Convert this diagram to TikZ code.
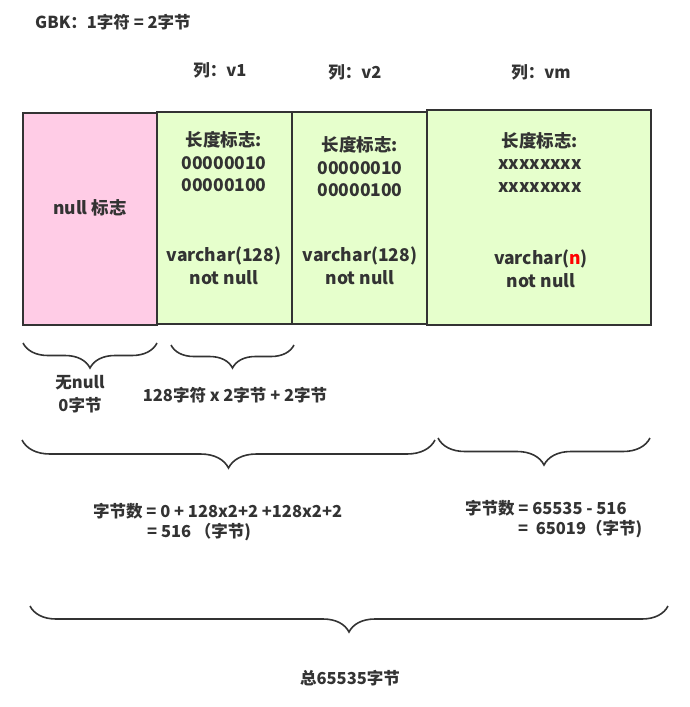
\documentclass[tikz,border=0pt]{standalone}
\usepackage{fontspec}
\setmainfont{Noto Sans CJK SC}
\usetikzlibrary{decorations.pathreplacing}
\definecolor{inkgray}{RGB}{51,51,51}
\definecolor{nullpink}{RGB}{255,204,230}
\definecolor{colgreen}{RGB}{230,255,204}

\begin{document}
\begin{tikzpicture}[x=1pt,y=-1pt,font=\bfseries\fontsize{16.5}{22.5}\selectfont,text=inkgray,
    box/.style={draw=inkgray,line width=2pt,inner sep=0pt,minimum height=212pt},
    lbl/.style={align=center,inner sep=0pt},
    inbox/.style={lbl,font=\bfseries\fontsize{17.5}{22.5}\selectfont},
    curly/.style={draw=inkgray,line width=1.6pt,decorate,decoration={brace,mirror,amplitude=#1}},
    curly/.default=25pt]
    % row layout of a varchar record
    \useasboundingbox (0,0) rectangle (690,707);
    \node[lbl,anchor=west] (gbk) at (35,22) {GBK：1字符 = 2字节};
    \node[lbl] (colv1) at (220,70) {列：v1};
    \node[lbl] (colv2) at (355,72) {列：v2};
    \node[lbl] (colvm) at (541,72) {列：vm};

    \node[box,fill=nullpink,minimum width=134pt] (nullbox) at (90,219) {};
    \node[box,fill=colgreen,minimum width=135pt] (v1box) at (224.5,218) {};
    \node[box,fill=colgreen,minimum width=135pt] (v2box) at (359.5,218) {};
    \node[box,fill=colgreen,minimum width=224pt,minimum height=215pt] (vmbox) at (539,217.5) {};

    \node[inbox] (nulltxt) at (90,208) {null 标志};
    \node[inbox] (v1len) at (224,162) {长度标志:\\00000010\\00000100};
    \node[inbox] (v1type) at (224,266) {varchar(128)\\not null};
    \node[inbox] (v2len) at (360,167) {长度标志:\\00000010\\00000100};
    \node[inbox] (v2type) at (360,266) {varchar(128)\\not null};
    \node[inbox] (vmlen) at (540,162) {长度标志:\\xxxxxxxx\\xxxxxxxx};
    \node[inbox] (vmtype) at (541,269) {varchar({\color{red}n})\\not null};

    % braces
    \coordinate (b1l) at (23,343);  \coordinate (b1r) at (157,343);
    \coordinate (b2l) at (171,345); \coordinate (b2r) at (294,345);
    \coordinate (b3l) at (22,440);  \coordinate (b3r) at (435,440);
    \coordinate (b4l) at (438,438); \coordinate (b4r) at (650,438);
    \coordinate (b5l) at (30,606);  \coordinate (b5r) at (668,606);
    \draw[curly] (b1l) -- (b1r);
    \draw[curly=23pt] (b2l) -- (b2r);
    \draw[curly=28pt] (b3l) -- (b3r);
    \draw[curly=27pt] (b4l) -- (b4r);
    \draw[curly=26pt] (b5l) -- (b5r);

    \node[lbl] (nullcost) at (80,394) {无null\\0字节};
    \node[lbl] (v1cost) at (235,395) {128字符 x 2字节 + 2字节};
    \node[lbl,anchor=west] (sumleft) at (93,511) {字节数 = 0 + 128x2+2 +128x2+2};
    \node[lbl,anchor=west] (sumleftb) at (147,532) {= 516 （字节)};
    \node[lbl,anchor=west] (sumright) at (465,508) {字节数 = 65535 - 516};
    \node[lbl,anchor=west] (sumrightb) at (518,529) {=~ 65019（字节)};
    \node[lbl] (total) at (350,678) {总65535字节};
\end{tikzpicture}
\end{document}
